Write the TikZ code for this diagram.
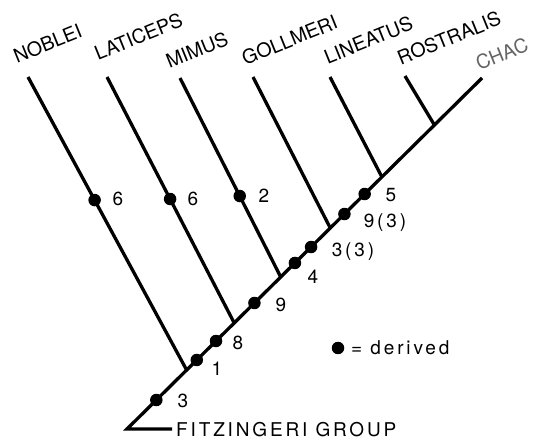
\documentclass[tikz,border=0pt]{standalone}
\usepackage{fontspec}
\setmainfont{TeX Gyre Heros}[LetterSpace=15]
\newfontfamily\plainf{TeX Gyre Heros}
\usetikzlibrary{calc}
\definecolor{chacgray}{RGB}{100,100,100}
\newcommand{\taxlabel}[4]{\begin{scope}[transform canvas={rotate around={22:(#2)}}]\node[tax,#4] (#1) at (#2) {#3};\end{scope}}
\begin{document}
\begin{tikzpicture}[x=1pt,y=-1pt,
  br/.style={line width=3.3pt, line join=miter},
  dot/.style={circle, fill=black, inner sep=0pt, minimum size=12.5pt},
  lbl/.style={font=\fontsize{19}{19}\selectfont, inner sep=0pt},
  tax/.style={font=\plainf\fontsize{19.5}{19.5}\selectfont, inner sep=0pt}]
\useasboundingbox (0,0) rectangle (538,443);
% main line
\coordinate (root) at (127,429);
\coordinate (fz) at (172,429);
\coordinate (chac) at (482,78);
% taxon tips
\coordinate (tN) at (28,77);
\coordinate (tL) at (107,77);
\coordinate (tM) at (180,78);
\coordinate (tG) at (253,77);
\coordinate (tLi) at (330,77);
\coordinate (tR) at (405,76);
% junctions
\coordinate (jN) at ($(root)!0.168!(chac)$);
\coordinate (jL) at ($(root)!0.302!(chac)$);
\coordinate (jM) at ($(root)!0.433!(chac)$);
\coordinate (jG) at ($(root)!0.5726!(chac)$);
\coordinate (jLi) at ($(root)!0.718!(chac)$);
\coordinate (jR) at ($(root)!0.866!(chac)$);
\draw[br] (fz) -- (root) -- (chac);
\draw[br] (tN) -- (jN);
\draw[br] (tL) -- (jL);
\draw[br] (tM) -- (jM);
\draw[br] (tG) -- (jG);
\draw[br] (tLi) -- (jLi);
\draw[br] (tR) -- (jR);
% dots
\node[dot] (d3) at ($(root)!0.0826!(chac)$) {};
\node[dot] (d1) at ($(root)!0.1966!(chac)$) {};
\node[dot] (d8) at ($(root)!0.2507!(chac)$) {};
\node[dot] (d9) at ($(root)!0.359!(chac)$) {};
\node[dot] (d4) at ($(root)!0.473!(chac)$) {};
\node[dot] (d33) at ($(root)!0.5185!(chac)$) {};
\node[dot] (d93) at ($(root)!0.6125!(chac)$) {};
\node[dot] (d5) at ($(root)!0.6695!(chac)$) {};
\node[dot] (dN) at ($(tN)!0.42!(jN)$) {};
\node[dot] (dL) at ($(tL)!0.496!(jL)$) {};
\node[dot] (dM) at ($(tM)!0.593!(jM)$) {};
% numbers
\node[lbl] (n3) at (183,401) {3};
\node[lbl] (n1) at (217,369) {1};
\node[lbl] (n8) at (238,343) {8};
\node[lbl] (n9) at (281,305) {9};
\node[lbl] (n4) at (313,277) {4};
\node[lbl] (n33) at (353,252) {3(3)};
\node[lbl] (n93) at (385,223) {9(3)};
\node[lbl] (n5) at (391,195) {5};
\node[lbl] (nN) at (118,199) {6};
\node[lbl] (nL) at (193,199) {6};
\node[lbl] (nM) at (264,196) {2};
% taxa
\taxlabel{xN}{47.5,43.5}{NOBLEI}{}
\taxlabel{xL}{138.5,36.5}{LATICEPS}{}
\taxlabel{xM}{197,50}{MIMUS}{}
\taxlabel{xG}{289.5,40}{GOLLMERI}{}
\taxlabel{xLi}{368.5,40}{LINEATUS}{}
\taxlabel{xR}{449,38}{ROSTRALIS}{}
\taxlabel{xC}{502,54}{CHAC}{text=chacgray}
\node[lbl, anchor=west] (fzl) at (176,430) {FITZINGERI GROUP};
% legend
\node[dot] (ld) at (338,348) {};
\node[lbl, anchor=west] (lt) at (351,348) {= derived};
\end{tikzpicture}
\end{document}
